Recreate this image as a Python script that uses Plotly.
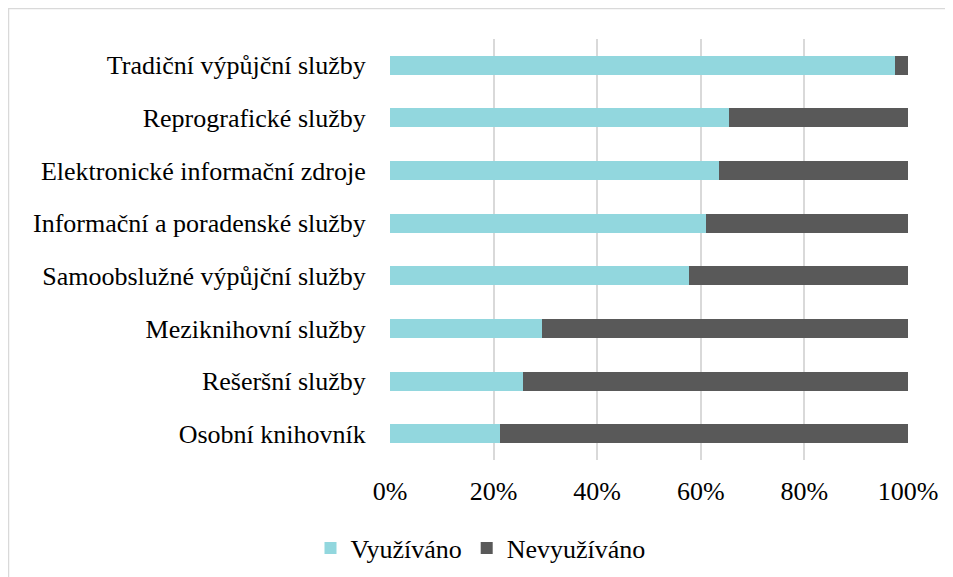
import plotly.graph_objects as go

categories = [
    "Tradiční výpůjční služby",
    "Reprografické služby",
    "Elektronické informační zdroje",
    "Informační a poradenské služby",
    "Samoobslužné výpůjční služby",
    "Meziknihovní služby",
    "Rešeršní služby",
    "Osobní knihovník",
]
vyuzivano = [97.4, 65.4, 63.6, 61.0, 57.8, 29.3, 25.6, 21.2]
nevyuzivano = [round(100 - v, 1) for v in vyuzivano]
tick_vals = [0, 20, 40, 60, 80, 100]
tick_text = ["0%", "20%", "40%", "60%", "80%", "100%"]

FONT = "Liberation Serif, Times New Roman, serif"

# page has an 8px body margin, so the figure is sized to fit inside it
W, H = 945, 569
L, R, T, B = 382, 45, 31, 117
plot_w = W - L - R
plot_h = H - T - B

fig = go.Figure()
fig.add_trace(go.Bar(
    y=categories, x=vyuzivano, name="Využíváno", orientation="h",
    marker=dict(color="#92D7DE", line=dict(width=0)), width=0.36,
))
fig.add_trace(go.Bar(
    y=categories, x=nevyuzivano, name="Nevyužíváno", orientation="h",
    marker=dict(color="#595959", line=dict(width=0)), width=0.36,
))

fig.update_layout(
    barmode="stack",
    width=W, height=H,
    margin=dict(l=L, r=R, t=T, b=B),
    paper_bgcolor="white", plot_bgcolor="white",
    font=dict(family=FONT, size=26, color="#000000"),
    legend=dict(
        orientation="h", xref="container", yref="container",
        x=0.5, xanchor="center", y=1 - 540 / H, yanchor="middle",
        font=dict(size=26), itemwidth=30, traceorder="normal",
    ),
    shapes=[dict(
        type="rect", xref="paper", yref="paper",
        x0=(0.5 - L) / plot_w, x1=1.2,
        y0=-0.5, y1=(H - B - 0.5) / plot_h,
        line=dict(color="#D9D9D9", width=1.5), layer="below",
    )],
)
fig.update_xaxes(
    range=[0, 100], tickvals=tick_vals, ticktext=tick_text,
    showgrid=True, gridcolor="#D9D9D9", gridwidth=2,
    zeroline=False, ticks="outside", ticklen=8,
    tickcolor="rgba(0,0,0,0)", fixedrange=True,
)
fig.update_yaxes(
    autorange="reversed", showgrid=False, zeroline=False,
    ticks="outside", ticklen=18, tickcolor="rgba(0,0,0,0)",
)

fig.write_html("out.html")
